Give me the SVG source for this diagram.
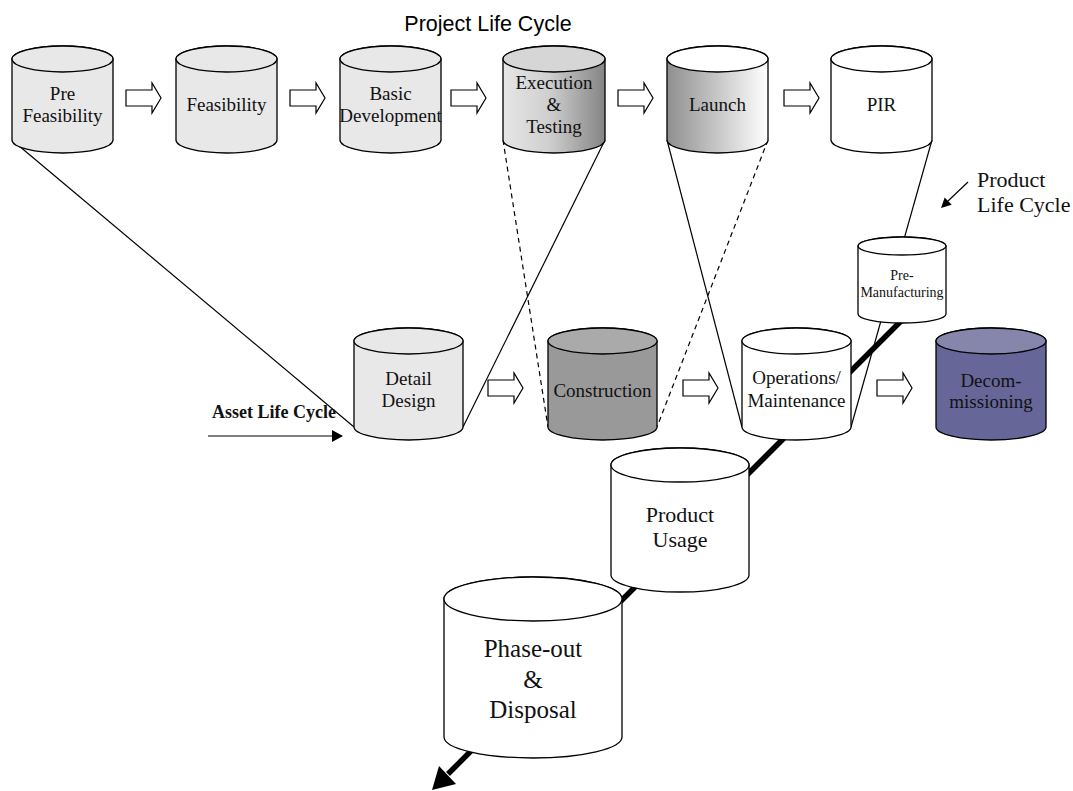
<svg xmlns="http://www.w3.org/2000/svg" width="1073" height="791" viewBox="0 0 1073 791">
<defs>
<linearGradient id="gExec" x1="0" y1="0" x2="1" y2="0">
<stop offset="0" stop-color="#e6e6e6"/><stop offset="0.45" stop-color="#cfcfcf"/><stop offset="1" stop-color="#858585"/>
</linearGradient>
<linearGradient id="gLaunch" x1="0" y1="0" x2="1" y2="0">
<stop offset="0" stop-color="#8f8f8f"/><stop offset="1" stop-color="#ffffff"/>
</linearGradient>
<style>
.cyl{stroke:#000;stroke-width:1.3}
.t{font-family:"Liberation Serif","Times New Roman",serif;fill:#111;text-anchor:middle}
.ts{font-family:"Liberation Serif","Times New Roman",serif;fill:#111;text-anchor:start}
.ba{fill:#fff;stroke:#000;stroke-width:1.2}
.thin{stroke:#000;stroke-width:1.2;fill:none}
.dash{stroke:#000;stroke-width:1.2;fill:none;stroke-dasharray:5 4}
</style>
</defs>
<rect width="1073" height="791" fill="#fff"/>

<text x="488" y="31" font-family="'Liberation Sans',Arial,sans-serif" font-size="21.5" text-anchor="middle" fill="#000">Project Life Cycle</text>

<g id="connectors">
<line class="thin" x1="12" y1="140" x2="354" y2="427"/>
<line class="thin" x1="605" y1="140" x2="463" y2="427"/>
<line class="dash" x1="503" y1="140" x2="548" y2="427"/>
<line class="dash" x1="768" y1="140" x2="657" y2="427"/>
<line class="thin" x1="667" y1="140" x2="742" y2="427"/>
<line class="thin" x1="932" y1="140" x2="851" y2="427"/>
<line x1="905" y1="317" x2="448" y2="774" stroke="#000" stroke-width="5.5"/>
<polygon points="432,790 456,784 439,766" fill="#000"/>
<line class="thin" x1="208" y1="436" x2="333" y2="436" stroke-width="1.5"/>
<polygon points="332,430 343,436 332,442" fill="#000"/>
<line class="thin" x1="968" y1="182" x2="948" y2="201" stroke-width="1.5"/>
<polygon points="941,208 951.7,204.7 944.7,197.5" fill="#000"/>
<path class="ba" d="M126,90H152V83L161,98L152,113V106H126Z"/>
<path class="ba" d="M290,90H316V83L325,98L316,113V106H290Z"/>
<path class="ba" d="M451,90H477V83L486,98L477,113V106H451Z"/>
<path class="ba" d="M618,90H644V83L653,98L644,113V106H618Z"/>
<path class="ba" d="M784,90H810V83L819,98L810,113V106H784Z"/>
<path class="ba" d="M488,380H514V373L523,388L514,403V396H488Z"/>
<path class="ba" d="M683,380H709V373L718,388L709,403V396H683Z"/>
<path class="ba" d="M877,380H903V373L912,388L903,403V396H877Z"/>
</g>

<g id="pre-feasibility">
<path class="cyl" fill="#e8e8e8" d="M12,59V140A50.5,13 0 0 0 113,140V59A50.5,13 0 0 0 12,59Z"/>
<ellipse class="cyl" fill="#e8e8e8" cx="62.5" cy="59" rx="50.5" ry="13"/>
<text class="t" font-size="19" x="62.5" y="100">Pre</text>
<text class="t" font-size="19" x="62.5" y="122">Feasibility</text>
</g>
<g id="feasibility">
<path class="cyl" fill="#e8e8e8" d="M176,59V140A50.5,13 0 0 0 277,140V59A50.5,13 0 0 0 176,59Z"/>
<ellipse class="cyl" fill="#e8e8e8" cx="226.5" cy="59" rx="50.5" ry="13"/>
<text class="t" font-size="19" x="226.5" y="111">Feasibility</text>
</g>
<g id="basic-development">
<path class="cyl" fill="#e8e8e8" d="M340,59V140A50.5,13 0 0 0 441,140V59A50.5,13 0 0 0 340,59Z"/>
<ellipse class="cyl" fill="#e8e8e8" cx="390.5" cy="59" rx="50.5" ry="13"/>
<text class="t" font-size="19" x="390.5" y="100">Basic</text>
<text class="t" font-size="19" x="390.5" y="122">Development</text>
</g>
<g id="execution-testing">
<path class="cyl" fill="url(#gExec)" d="M503,59V140A51,13 0 0 0 605,140V59A51,13 0 0 0 503,59Z"/>
<ellipse class="cyl" fill="#d6d6d6" cx="554" cy="59" rx="51" ry="13"/>
<text class="t" font-size="19" x="554" y="89">Execution</text>
<text class="t" font-size="19" x="554" y="111">&amp;</text>
<text class="t" font-size="19" x="554" y="133">Testing</text>
</g>
<g id="launch">
<path class="cyl" fill="url(#gLaunch)" d="M667,59V140A50.5,13 0 0 0 768,140V59A50.5,13 0 0 0 667,59Z"/>
<ellipse class="cyl" fill="#fff" cx="717.5" cy="59" rx="50.5" ry="13"/>
<text class="t" font-size="19" x="717.5" y="111">Launch</text>
</g>
<g id="pir">
<path class="cyl" fill="#fff" d="M831,59V140A50.5,13 0 0 0 932,140V59A50.5,13 0 0 0 831,59Z"/>
<ellipse class="cyl" fill="#fff" cx="881.5" cy="59" rx="50.5" ry="13"/>
<text class="t" font-size="19" x="881.5" y="111">PIR</text>
</g>

<g id="product-life-cycle-label">
<text class="ts" font-size="22" x="977" y="187">Product</text>
<text class="ts" font-size="22" x="977" y="212">Life Cycle</text>
</g>

<g id="pre-manufacturing">
<path class="cyl" fill="#fff" d="M858,246V314A44,9 0 0 0 946,314V246A44,9 0 0 0 858,246Z"/>
<ellipse class="cyl" fill="#fff" cx="902" cy="246" rx="44" ry="9"/>
<text class="t" font-size="14" x="902" y="280">Pre-</text>
<text class="t" font-size="14" x="902" y="297">Manufacturing</text>
</g>

<g id="asset-life-cycle-label">
<text class="ts" font-size="18" font-weight="bold" x="212" y="418">Asset Life Cycle</text>
</g>

<g id="detail-design">
<path class="cyl" fill="#e8e8e8" d="M354,341V427A54.5,13 0 0 0 463,427V341A54.5,13 0 0 0 354,341Z"/>
<ellipse class="cyl" fill="#e8e8e8" cx="408.5" cy="341" rx="54.5" ry="13"/>
<text class="t" font-size="19" x="408.5" y="385">Detail</text>
<text class="t" font-size="19" x="408.5" y="407">Design</text>
</g>
<g id="construction">
<path class="cyl" fill="#999" d="M548,341V427A54.5,13 0 0 0 657,427V341A54.5,13 0 0 0 548,341Z"/>
<ellipse class="cyl" fill="#aaa" cx="602.5" cy="341" rx="54.5" ry="13"/>
<text class="t" font-size="19" x="602.5" y="397">Construction</text>
</g>
<g id="operations-maintenance">
<path class="cyl" fill="#fff" d="M742,341V427A54.5,13 0 0 0 851,427V341A54.5,13 0 0 0 742,341Z"/>
<ellipse class="cyl" fill="#fff" cx="796.5" cy="341" rx="54.5" ry="13"/>
<text class="t" font-size="19" x="796.5" y="384">Operations/</text>
<text class="t" font-size="19" x="796.5" y="407">Maintenance</text>
</g>
<g id="decommissioning">
<path class="cyl" fill="#666699" d="M936,341V427A55,13 0 0 0 1046,427V341A55,13 0 0 0 936,341Z"/>
<ellipse class="cyl" fill="#8686ad" cx="991" cy="341" rx="55" ry="13"/>
<text class="t" font-size="19" x="991" y="387">Decom-</text>
<text class="t" font-size="19" x="991" y="408">missioning</text>
</g>

<g id="product-usage">
<path class="cyl" fill="#fff" d="M611,465V575A69,17 0 0 0 749,575V465A69,17 0 0 0 611,465Z"/>
<ellipse class="cyl" fill="#fff" cx="680" cy="465" rx="69" ry="17"/>
<text class="t" font-size="22" x="680" y="522">Product</text>
<text class="t" font-size="22" x="680" y="547">Usage</text>
</g>
<g id="phase-out-disposal">
<path class="cyl" fill="#fff" d="M444,599V737A89,21 0 0 0 622,737V599A89,22 0 0 0 444,599Z"/>
<ellipse class="cyl" fill="#fff" cx="533" cy="599" rx="89" ry="22"/>
<text class="t" font-size="25" x="533" y="657">Phase-out</text>
<text class="t" font-size="25" x="533" y="688">&amp;</text>
<text class="t" font-size="25" x="533" y="718">Disposal</text>
</g>
</svg>
